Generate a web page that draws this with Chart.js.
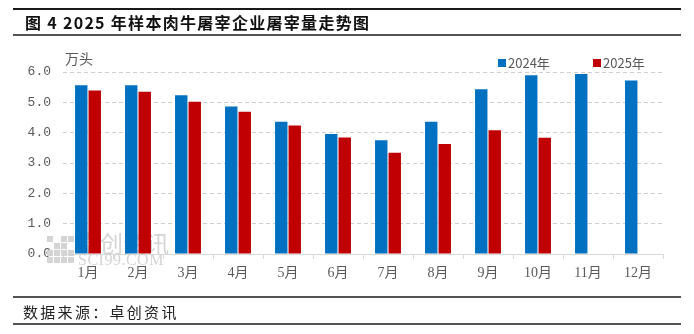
<!DOCTYPE html>
<html>
<head>
<meta charset="utf-8">
<script src="https://cdn.jsdelivr.net/npm/chart.js@4.4.1/dist/chart.umd.min.js"></script>
<style>
  html, body { margin: 0; padding: 0; background: #fff; }
  #wrap { position: relative; width: 694px; height: 334px; }
</style>
</head>
<body>
<div id="wrap"><canvas id="c" width="694" height="334"></canvas></div>
<script>
// Monthly slaughter volume of sample beef-cattle enterprises (unit: 10k head)
const months = ['1月', '2月', '3月', '4月', '5月', '6月', '7月', '8月', '9月', '10月', '11月', '12月'];
const vol2024 = [5.56, 5.56, 5.23, 4.86, 4.36, 3.96, 3.75, 4.36, 5.43, 5.89, 5.93, 5.72];
const vol2025 = [5.39, 5.35, 5.02, 4.69, 4.24, 3.84, 3.34, 3.63, 4.08, 3.83, null, null];
const seriesNames = ['2024年', '2025年'];
const yMin = 0, yMax = 6, yStep = 1;

const titleText = '图 4 2025 年样本肉牛屠宰企业屠宰量走势图';
const sourceText = '数据来源：卓创资讯';
const unitText = '万头';

const BLUE = '#0070C0';
const RED = '#C00000';
const CJK = '"Noto Sans CJK SC", sans-serif';

// Title, frame lines, unit, legend and footer drawn around the plot area
const framePlugin = {
  id: 'frame',
  beforeDatasetsDraw(chart) {
    // faint publisher watermark behind the bars
    const ctx = chart.ctx;
    ctx.save();
    ctx.fillStyle = '#d4d4d4';
    const lx = 47, ly = 236;
    for (let i = 0; i < 4; i++) {
      for (let j = 0; j < 4; j++) {
        if ((i + j) % 3 === 1 && i < 2) continue;
        ctx.fillRect(lx + j * 7, ly + i * 7, 6, 6);
      }
    }
    ctx.font = '23px ' + CJK;
    ctx.textBaseline = 'middle';
    ctx.textAlign = 'left';
    ctx.fillText('卓创资讯', 77, 243);
    ctx.font = '16px "Liberation Serif", serif';
    ctx.letterSpacing = '0.5px';
    ctx.fillText('SCI99.COM', 78, 261);
    ctx.letterSpacing = '0px';
    ctx.restore();
  },
  afterDraw(chart) {
    const ctx = chart.ctx;
    ctx.save();
    // rules
    ctx.strokeStyle = '#1a1a1a';
    ctx.lineWidth = 2;
    ctx.beginPath(); ctx.moveTo(13, 9); ctx.lineTo(681, 9); ctx.stroke();
    ctx.lineWidth = 1.5;
    ctx.beginPath(); ctx.moveTo(13, 35); ctx.lineTo(681, 35); ctx.stroke();
    ctx.beginPath(); ctx.moveTo(13, 297); ctx.lineTo(681, 297); ctx.stroke();
    ctx.beginPath(); ctx.moveTo(13, 324); ctx.lineTo(681, 324); ctx.stroke();

    // title
    ctx.fillStyle = '#111';
    ctx.textBaseline = 'middle';
    ctx.textAlign = 'left';
    ctx.font = 'bold 16px ' + CJK;
    ctx.letterSpacing = '1.3px';
    ctx.fillText(titleText, 25, 23);

    // source
    ctx.fillStyle = '#222';
    ctx.font = '15px ' + CJK;
    ctx.letterSpacing = '2.3px';
    ctx.fillText(sourceText, 23, 312);
    ctx.letterSpacing = '0px';

    // unit label
    ctx.fillStyle = '#595959';
    ctx.font = '14px ' + CJK;
    ctx.fillText(unitText, 65, 59);

    // legend from the datasets
    const legendX = [498, 593];
    ctx.font = '13px ' + CJK;
    chart.data.datasets.forEach((ds, i) => {
      ctx.fillStyle = ds.backgroundColor;
      ctx.fillRect(legendX[i], 59, 8, 8);
      ctx.fillStyle = '#595959';
      ctx.fillText(ds.label, legendX[i] + 10, 63.5);
    });
    ctx.restore();
  }
};

new Chart(document.getElementById('c'), {
  type: 'bar',
  data: {
    labels: months,
    datasets: [
      { label: seriesNames[0], data: vol2024, backgroundColor: BLUE },
      { label: seriesNames[1], data: vol2025, backgroundColor: RED }
    ]
  },
  options: {
    responsive: false,
    animation: false,
    layout: { padding: { left: 0, right: 31, top: 72, bottom: 50 } },
    datasets: { bar: { categoryPercentage: 0.54, barPercentage: 0.92 } },
    plugins: { legend: { display: false }, tooltip: { enabled: false } },
    scales: {
      x: {
        afterFit(s) { s.height = 30; },
        grid: {
          display: true,
          drawOnChartArea: false,
          drawTicks: true,
          tickLength: 5,
          color: '#d9d9d9',
          offset: true
        },
        border: { display: true, color: '#d9d9d9', width: 1 },
        ticks: {
          padding: 6,
          color: '#595959',
          font: { family: '"Liberation Serif", "Noto Sans CJK SC", serif', size: 14 },
          maxRotation: 0,
          autoSkip: false
        }
      },
      y: {
        min: yMin,
        max: yMax,
        afterFit(s) { s.width = 63; },
        border: { display: false, dash: [4, 3] },
        grid: {
          drawTicks: false,
          color: (c) => (c.tick && c.tick.value === 0 ? 'rgba(0,0,0,0)' : '#cfcfcf'),
          lineWidth: 1
        },
        ticks: {
          stepSize: yStep,
          padding: 12,
          color: '#595959',
          font: { family: '"Liberation Mono", monospace', size: 13 },
          callback: (v) => Number(v).toFixed(1)
        }
      }
    }
  },
  plugins: [framePlugin]
});
</script>
</body>
</html>
